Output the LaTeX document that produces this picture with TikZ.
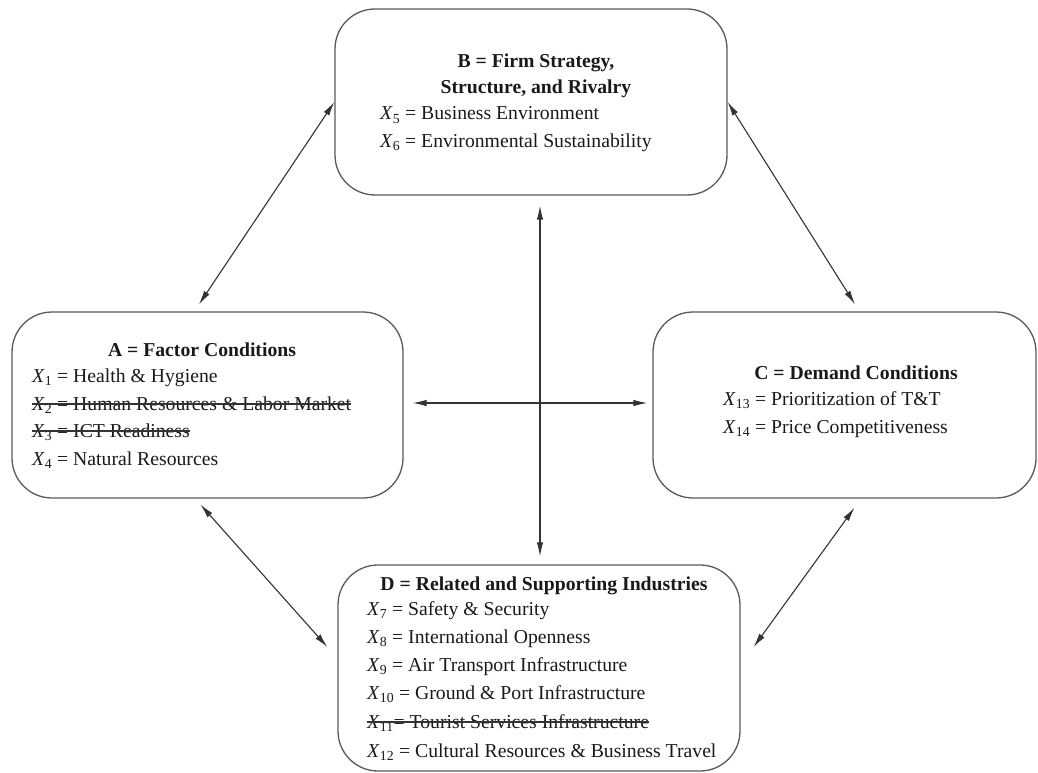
\documentclass[tikz,border=0pt]{standalone}
\usepackage{fontspec}
\setmainfont{Liberation Serif}
\usetikzlibrary{arrows.meta,calc}

% italic X with an upright index
\newcommand\xv[1]{\textit{X}\textsubscript{#1}}

\begin{document}
\begin{tikzpicture}[x=1pt,y=-1pt,
  box/.style={draw=black!65, line width=1.3pt, rounded corners=40pt, inner sep=0pt},
  txt/.style={anchor=base west, inner sep=0pt, font=\fontsize{19.7}{24}\selectfont, text=black!90},
  ttl/.style={anchor=base, inner sep=0pt, font=\fontsize{19.7}{24}\selectfont\bfseries, text=black!90},
  strike/.style={draw=black!80, line width=1.1pt},
  link/.style={draw=black!80, line width=1.1pt, {Latex[length=14pt,width=6.5pt]}-{Latex[length=14pt,width=6.5pt]}}
]
\useasboundingbox (0,0) rectangle (1038,773);

% the four determinant boxes
\node[box, minimum width=392pt, minimum height=186pt] (B) at (531,102) {};
\node[box, minimum width=391pt, minimum height=186pt] (A) at (207.5,405) {};
\node[box, minimum width=383pt, minimum height=186pt] (C) at (844.5,405) {};
\node[box, minimum width=402pt, minimum height=206pt] (D) at (539,668) {};

% B: firm strategy
\node[ttl] (Bt1) at (536,68) {B = Firm Strategy,};
\node[ttl] (Bt2) at (536,94) {Structure, and Rivalry};
\node[txt] (B5) at (380,120) {\xv{5} = Business Environment};
\node[txt] (B6) at (380,147) {\xv{6} = Environmental Sustainability};

% A: factor conditions
\node[ttl] (At) at (202,356) {A = Factor Conditions};
\node[txt] (A1) at (32,382) {\xv{1} = Health \& Hygiene};
\node[txt] (A2) at (32,410) {\xv{2} = Human Resources \& Labor Market};
\node[txt] (A3) at (32,437) {\xv{3} = ICT Readiness};
\node[txt] (A4) at (32,465) {\xv{4} = Natural Resources};

% C: demand conditions
\node[ttl] (Ct) at (856,379) {C = Demand Conditions};
\node[txt] (C13) at (723,405) {\xv{13} = Prioritization of T\&T};
\node[txt] (C14) at (723,433) {\xv{14} = Price Competitiveness};

% D: related and supporting industries
\node[ttl] (Dt) at (544,590) {D = Related and Supporting Industries};
\node[txt] (D7) at (367,615) {\xv{7} = Safety \& Security};
\node[txt] (D8) at (367,643) {\xv{8} = International Openness};
\node[txt] (D9) at (367,671) {\xv{9} = Air Transport Infrastructure};
\node[txt] (D10) at (367,699) {\xv{10} = Ground \& Port Infrastructure};
\node[txt] (D11) at (367,728) {\xv{11}= Tourist Services Infrastructure};
\node[txt] (D12) at (367,757) {\xv{12} = Cultural Resources \& Business Travel};

% struck-out indicators
\foreach \n in {A2,A3,D11}
  \draw[strike] ([yshift=6pt]\n.base west) -- ([yshift=6pt]\n.base east);

% two-way links between the determinants
\draw[link] (B.west) -- ($(A.north)+(-8.5,-7)$);
\draw[link] (B.east) -- ($(C.north)+(10.5,-7)$);
\draw[link] ($(A.south)+(-7,6)$) -- ($(D.west)+(-10,-21)$);
\draw[link] ($(C.south)+(10,9)$) -- ($(D.east)+(13,-21)$);
\draw[link] ($(B.south)+(9,10)$) -- ($(D.north)+(1,-8)$);
\draw[link] ($(A.east)+(9,-2)$) -- ($(C.west)+(-5,-2)$);
\end{tikzpicture}
\end{document}
